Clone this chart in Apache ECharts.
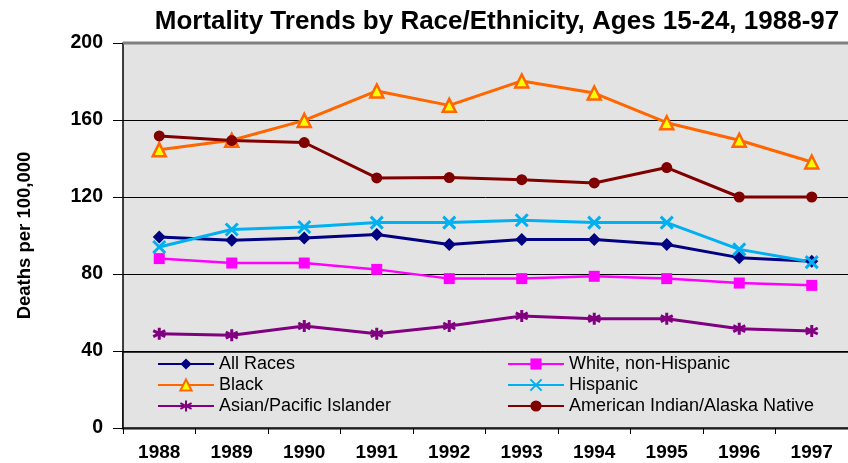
<!DOCTYPE html>
<html>
<head>
<meta charset="utf-8">
<script src="https://cdn.jsdelivr.net/npm/echarts@6/dist/echarts.min.js"></script>
<style>
html,body{margin:0;padding:0;background:#fff;}
#chart{width:848px;height:463px;}
</style>
</head>
<body>
<div id="chart"></div>
<script>
const years = ['1988','1989','1990','1991','1992','1993','1994','1995','1996','1997'];
const allRaces = [99.2, 97.5, 98.7, 100.5, 95.3, 97.9, 97.9, 95.3, 88.5, 86.6];
const whiteNonHispanic = [88.0, 85.7, 85.7, 82.4, 77.6, 77.6, 78.8, 77.6, 75.3, 74.1];
const black = [144.6, 149.5, 159.8, 175.1, 167.6, 180.3, 174.0, 158.6, 149.5, 138.2];
const hispanic = [94.0, 103.1, 104.4, 106.7, 106.7, 107.9, 106.7, 106.7, 92.8, 86.2];
const asianPacific = [49.0, 48.2, 53.0, 49.0, 53.0, 58.2, 56.8, 56.8, 51.6, 50.4];
const amIndian = [151.7, 149.3, 148.3, 129.9, 130.1, 129.0, 127.3, 135.3, 120.0, 120.0];
const yTicks = [0, 40, 80, 120, 160, 200];

const FONT = 'Liberation Sans, Arial, sans-serif';
const chart = echarts.init(document.getElementById('chart'));

function mk(name, data, color, symbol, size, extra) {
  return Object.assign({
    name: name, type: 'line', data: data, symbol: symbol, symbolSize: size,
    lineStyle: {color: color, width: 3},
    itemStyle: {color: color},
    emphasis: {disabled: true}, animation: false, z: 5
  }, extra || {});
}
const xPath = 'path://M0,0 L10,10 M10,0 L0,10';
const starPath = 'path://M5,0 L5,10 M0.7,2.5 L9.3,7.5 M0.7,7.5 L9.3,2.5';

const legendText = {fontFamily: FONT, fontSize: 18, color: '#000'};

chart.setOption({
  animation: false,
  backgroundColor: '#fff',
  title: {
    text: 'Mortality Trends by Race/Ethnicity, Ages 15-24, 1988-97',
    left: 492, top: 4, textAlign: 'center',
    textStyle: {fontFamily: FONT, fontSize: 26, fontWeight: 'bold', color: '#000'}
  },
  grid: {left: 123, top: 43, width: 730, height: 385, show: true, backgroundColor: '#E3E3E3', borderWidth: 0},
  xAxis: {
    type: 'category', data: years, boundaryGap: true,
    axisLine: {lineStyle: {color: '#808080', width: 3}},
    axisTick: {show: true, length: 6, lineStyle: {color: '#000'}, interval: 0},
    axisLabel: {fontFamily: FONT, fontSize: 19, fontWeight: 'bold', color: '#000', margin: 15, interval: 0},
    splitLine: {show: false}
  },
  yAxis: {
    type: 'value', min: 0, max: 200, interval: 40,
    name: 'Deaths per 100,000', nameLocation: 'middle', nameGap: 89, nameRotate: 90,
    nameTextStyle: {fontFamily: FONT, fontSize: 18.5, fontWeight: 'bold', color: '#000'},
    axisLine: {show: true, lineStyle: {color: '#000', width: 1.5}},
    axisTick: {show: true, length: 10, lineStyle: {color: '#000'}},
    axisLabel: {fontFamily: FONT, fontSize: 19.5, fontWeight: 'bold', color: '#000', margin: 20,
      formatter: function(v){ return yTicks.indexOf(v) >= 0 ? String(v) : ''; }},
    splitLine: {show: true, lineStyle: {color: '#000', width: 1}}
  },
  graphic: [
    {type: 'rect', shape: {x: 123, y: 352, width: 740, height: 76}, style: {fill: '#E3E3E3', stroke: '#000', lineWidth: 1.5}, z: 3},
    {type: 'line', shape: {x1: 123, y1: 43, x2: 860, y2: 43}, style: {stroke: '#808080', lineWidth: 3}, z: 3}
  ],
  legend: [
    {data: ['All Races', 'Black', 'Asian/Pacific Islander'], orient: 'vertical', left: 157, top: 355,
     itemWidth: 56, itemHeight: 14, itemGap: 3, textStyle: legendText, padding: 0, z: 6},
    {data: ['White, non-Hispanic', 'Hispanic', 'American Indian/Alaska Native'], orient: 'vertical', left: 507, top: 355,
     itemWidth: 56, itemHeight: 14, itemGap: 3, textStyle: legendText, padding: 0, z: 6}
  ],
  series: [
    mk('All Races', allRaces, '#000080', 'diamond', 13),
    mk('White, non-Hispanic', whiteNonHispanic, '#FF00FF', 'rect', 11, {lineStyle: {color: '#FF00FF', width: 2.5}}),
    mk('Black', black, '#FF6600', 'triangle', 13, {itemStyle: {color: '#FFFF00', borderColor: '#FF6600', borderWidth: 2.5}}),
    mk('Hispanic', hispanic, '#00B0F0', xPath, 12, {itemStyle: {color: '#00B0F0', borderColor: '#00B0F0', borderWidth: 3}}),
    mk('Asian/Pacific Islander', asianPacific, '#800080', starPath, 12, {itemStyle: {color: '#800080', borderColor: '#800080', borderWidth: 3}}),
    mk('American Indian/Alaska Native', amIndian, '#800000', 'circle', 11)
  ]
});
</script>
</body>
</html>
